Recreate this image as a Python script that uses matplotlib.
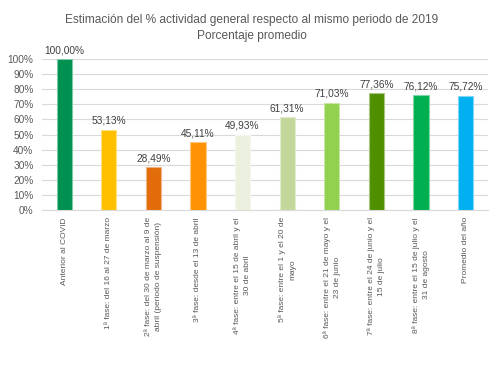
import matplotlib.pyplot as plt
from matplotlib.ticker import PercentFormatter

categorias = [
    "Anterior al COVID",
    "1ª fase: del 16 al 27 de marzo",
    "2ª fase: del 30 de marzo al 9 de\nabril (periodo de suspensión)",
    "3ª fase: desde el 13 de abril",
    "4ª fase: entre el 15 de abril y el\n30 de abril",
    "5ª fase: entre el 1 y el 20 de\nmayo",
    "6ª fase: entre el 21 de mayo y el\n23 de junio",
    "7ª fase: entre el 24 de junio y el\n15 de julio",
    "8ª fase: entre el 15 de julio y el\n31 de agosto",
    "Promedio del año",
]
valores = [100.00, 53.13, 28.49, 45.11, 49.93, 61.31, 71.03, 77.36, 76.12, 75.72]
colores = ["#00904F", "#FFC000", "#E36C0A", "#FF9305", "#EBF1DE",
           "#C4D79B", "#92D050", "#4F8F00", "#00B050", "#00B0F0"]
bordes = ["#7FC8A7", "#FFDF80", "#F1B584", "#FFC982", "#F5F8EE",
          "#E1EBCD", "#C8E7A7", "#A7C77F", "#7FD7A7", "#7FD7F7"]

plt.rcParams['font.family'] = ['Liberation Sans', 'DejaVu Sans']

fig = plt.figure(figsize=(5.04, 3.68), dpi=100)
ax = fig.add_axes([0.083, 0.429, 0.885, 0.411])

x = range(len(valores))
ax.bar(x, valores, width=0.34, color=colores, edgecolor=bordes, linewidth=0.8, zorder=3)

for xi, v in zip(x, valores):
    ax.text(xi, v + 2.5, f"{v:.2f}%".replace(".", ","), ha='center', va='bottom',
            fontsize=7.3, color='#404040')

ax.set_ylim(0, 100)
ax.set_xlim(-0.5, len(valores) - 0.5)
ax.set_yticks(range(0, 101, 10))
ax.yaxis.set_major_formatter(PercentFormatter(decimals=0))
ax.grid(axis='y', color='#D9D9D9', linewidth=0.8, zorder=0)
for s in ['top', 'right', 'left']:
    ax.spines[s].set_visible(False)
ax.spines['bottom'].set_color('#D9D9D9')
ax.tick_params(axis='y', length=0, labelsize=7.3, labelcolor='#595959', pad=6)
ax.tick_params(axis='x', length=0, pad=5)
ax.set_xticks(list(x))
ax.set_xticklabels(categorias, rotation=90, fontsize=6.0, color='#595959',
                   ha='center', va='top', multialignment='center', linespacing=1.6)

fig.text(0.5, 0.945, "Estimación del % actividad general respecto al mismo periodo de 2019",
         ha='center', va='center', fontsize=8.6, color='#595959')
fig.text(0.5, 0.903, "Porcentaje promedio", ha='center', va='center',
         fontsize=8.6, color='#595959')

fig.savefig("out.png", dpi=100)
